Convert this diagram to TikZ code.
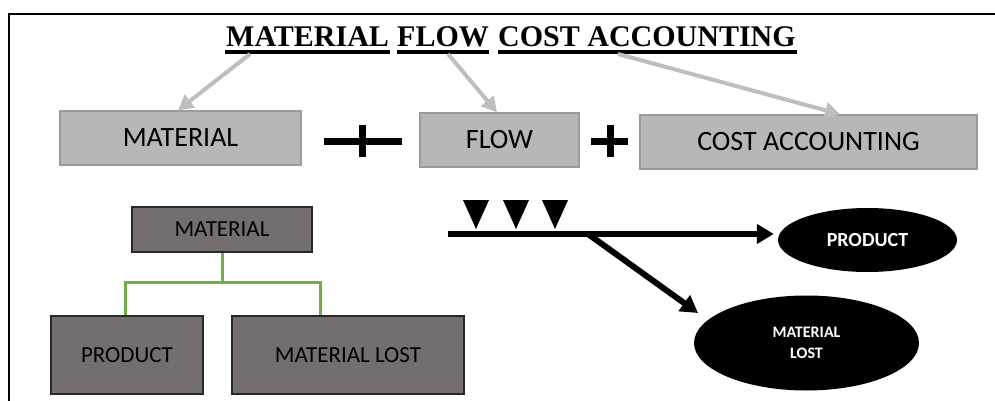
\documentclass[tikz,border=0pt]{standalone}
\usepackage{fontspec}
\setmainfont{Liberation Serif}
\newfontfamily\calib{Carlito}
\usetikzlibrary{arrows.meta,shapes.geometric,calc}
\definecolor{boxgray}{RGB}{183,183,183}
\definecolor{boxgrayline}{RGB}{155,155,155}
\definecolor{arrowgray}{RGB}{190,190,190}
\definecolor{darkfill}{RGB}{116,110,110}
\definecolor{darkline}{RGB}{40,40,40}
\definecolor{treegreen}{RGB}{112,173,71}
\begin{document}
\begin{tikzpicture}[x=1pt,y=-1pt,
 titleword/.style={anchor=base west, inner sep=0pt, font=\fontsize{30}{36}\selectfont\bfseries},
 uline/.style={line width=4pt},
 graybox/.style={draw=boxgrayline, fill=boxgray, line width=1.5pt, minimum height=54pt, inner sep=0pt, font=\calib\fontsize{28}{32}\selectfont},
 darkbox/.style={draw=darkline, fill=darkfill, line width=1.5pt, inner sep=0pt, font=\calib\fontsize{23}{27}\selectfont},
 blob/.style={ellipse, fill=black, inner sep=0pt, text=white, align=center},
 grayarrow/.style={draw=arrowgray, line width=4pt, -{Triangle[length=15pt,width=16pt]}},
 flowarrow/.style={draw=black, line width=6pt, -{Triangle[length=17pt,width=19pt]}},
 sign/.style={line width=7pt},
 frame/.style={line width=2.5pt},
 treeline/.style={draw=treegreen, line width=3pt},
]
\useasboundingbox (0,0) rectangle (995,401);
% frame
\draw[frame] (8,14) -- (995,14);
\draw[frame] (9,14) -- (9,401);
% title
\node[titleword] (t1) at (226,47) {MATERIAL};
\node[titleword] (t2) at (397,47) {FLOW};
\node[titleword] (t3) at (498,47) {COST ACCOUNTING};
\draw[uline] ($(t1.base west)+(-1,5)$) -- ($(t1.base east)+(1,5)$);
\draw[uline] ($(t2.base west)+(0,5)$) -- ($(t2.base east)+(0,5)$);
\draw[uline] ($(t3.base west)+(0,5)$) -- ($(t3.base east)+(1,5)$);
% gray boxes
\node[graybox, minimum width=241pt] (gm) at (180.5,138) {MATERIAL};
\node[graybox, minimum width=159pt] (gf) at (499.5,140) {FLOW};
\node[graybox, minimum width=337pt] (gc) at (808.5,142) {COST ACCOUNTING};
% gray arrows
\coordinate (s1) at (250,54);
\coordinate (s2) at (448,54);
\coordinate (s3) at (618,54);
\draw[grayarrow] (s1) -- ($(gm.north west)!0.49!(gm.north east)$);
\draw[grayarrow] (s2) -- ($(gf.north west)!0.484!(gf.north east)$);
\draw[grayarrow] (s3) -- ($(gc.north west)!0.593!(gc.north east)$);
% signs
\draw[sign] (324,141) -- (402,141);
\draw[sign] (362,125) -- (362,157);
\draw[sign] (591,141) -- (628,141);
\draw[sign] (610,125) -- (610,157);
% tree
\node[darkbox, minimum width=180pt, minimum height=45pt] (dm) at (222,229.5) {MATERIAL};
\node[darkbox, minimum width=152pt, minimum height=78pt] (dp) at (127,355) {PRODUCT};
\node[darkbox, minimum width=232pt, minimum height=78pt] (dl) at (348,355) {MATERIAL LOST};
\coordinate (gL) at (125,315);
\coordinate (gR) at (320,315);
\draw[treeline] (dm.south) -- ++(0,30) coordinate (gj) -| (gL);
\draw[treeline] (gj) -| (gR);
% flow diagram
\node[blob, minimum width=179pt, minimum height=64pt, font=\calib\bfseries\fontsize{20}{24}\selectfont] (ep) at (867.5,240) {PRODUCT};
\node[blob, minimum width=225pt, minimum height=95pt, font=\calib\bfseries\fontsize{16}{21}\selectfont] (el) at (806.5,343) {MATERIAL\\LOST};
\coordinate (fs) at (448,234);
\coordinate (fb) at (588,234);
\coordinate (ft) at (698,313);
\draw[flowarrow] (fs) -- ($(ep.west)+(-4,-6)$);
\draw[flowarrow] (fb) -- (ft);
\fill (463,200) -- (489,200) -- (476,229) -- cycle;
\fill (503,200) -- (529,200) -- (516,229) -- cycle;
\fill (542,200) -- (568,200) -- (555,229) -- cycle;
\end{tikzpicture}
\end{document}
